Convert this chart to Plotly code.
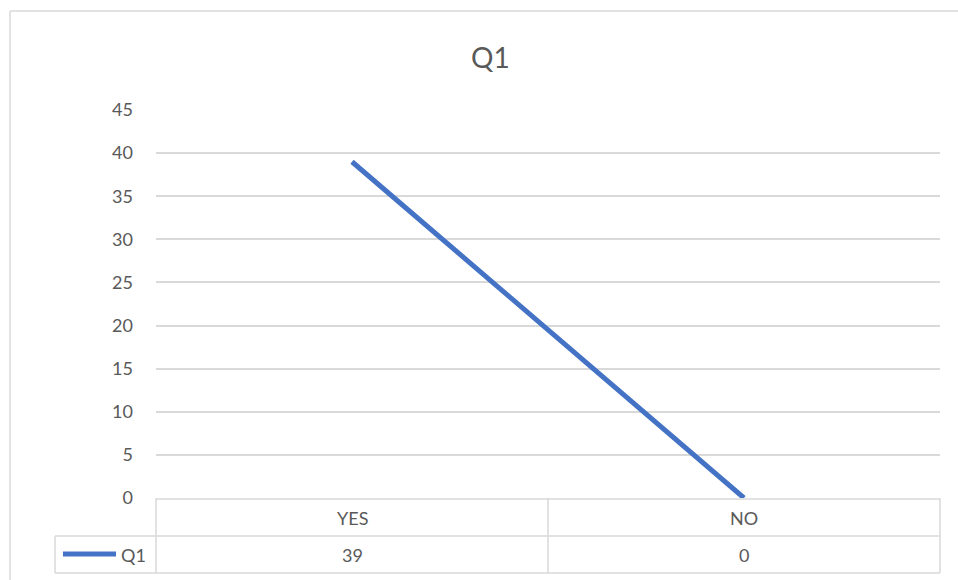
import plotly.graph_objects as go

categories = ["YES", "NO"]
values = [39, 0]
series_name = "Q1"
title = "Q1"
y_ticks = [0, 5, 10, 15, 20, 25, 30, 35, 40, 45]

W, H = 958, 580
L, R, T, B = 156, 940, 110, 498   # plot area in pixels
FONT = "Lato, Carlito, Calibri, sans-serif"
GRAY = "#595959"
GRID = "#d9d9d9"
BLUE = "#4472C4"

def px(x):
    return (x - L) / (R - L)

def py(y):
    return (B - y) / (B - T)

fig = go.Figure()
fig.add_trace(go.Scatter(
    x=categories, y=values, mode="lines", name=series_name,
    line=dict(color=BLUE, width=5), showlegend=False, cliponaxis=False,
))

shapes = []
def hline(y, x0, x1, color=GRID, w=1.5):
    shapes.append(dict(type="line", xref="paper", yref="paper",
                       x0=px(x0), x1=px(x1), y0=py(y), y1=py(y),
                       line=dict(color=color, width=w)))
def vline(x, y0, y1, color=GRID, w=1.5):
    shapes.append(dict(type="line", xref="paper", yref="paper",
                       x0=px(x), x1=px(x), y0=py(y0), y1=py(y1),
                       line=dict(color=color, width=w)))

# chart outer border (cropped on right/bottom)
hline(11, 10, 962)
vline(10, 11, 584)

# data table
hline(499, 156, 940)
hline(536, 55, 940)
hline(573, 55, 940)
vline(55, 536, 573)
vline(156, 498, 573)
vline(548, 498, 573)
vline(940, 498, 573)

# legend key
shapes.append(dict(type="line", xref="paper", yref="paper",
                   x0=px(63), x1=px(116), y0=py(554), y1=py(554),
                   line=dict(color=BLUE, width=5)))

def txt(**kw):
    return dict(showarrow=False, yanchor="middle",
                font=dict(size=18, color=GRAY, family=FONT), **kw)

annotations = []
for c, v in zip(categories, values):
    annotations.append(txt(x=c, y=py(518), xref="x", yref="paper", text=c, xanchor="center"))
    annotations.append(txt(x=c, y=py(555), xref="x", yref="paper", text=str(v), xanchor="center"))
annotations.append(txt(x=px(119), y=py(555), xref="paper", yref="paper", text=series_name,
                       xanchor="left"))
annotations.append(dict(x=px(490), y=py(57), xref="paper", yref="paper", text=title,
                        showarrow=False, xanchor="center", yanchor="middle",
                        font=dict(size=28, color=GRAY, family=FONT)))

fig.update_layout(
    width=W, height=H, autosize=False,
    margin=dict(l=L, r=W - R, t=T, b=H - B, pad=0, autoexpand=False),
    paper_bgcolor="white", plot_bgcolor="white",
    font=dict(family=FONT, color=GRAY, size=18),
    xaxis=dict(range=[-0.5, 1.5], type="category", automargin=False,
               showticklabels=False, showgrid=False, zeroline=False, showline=False,
               fixedrange=True),
    yaxis=dict(range=[0, 45], tickvals=y_ticks, automargin=False,
               showgrid=True, gridcolor=GRID, gridwidth=1.5, zeroline=False,
               showline=False, ticks="", ticklabelstandoff=22,
               tickfont=dict(size=18, color=GRAY, family=FONT), fixedrange=True),
    shapes=shapes,
    annotations=annotations,
    showlegend=False,
)

fig.write_html("out.html")
